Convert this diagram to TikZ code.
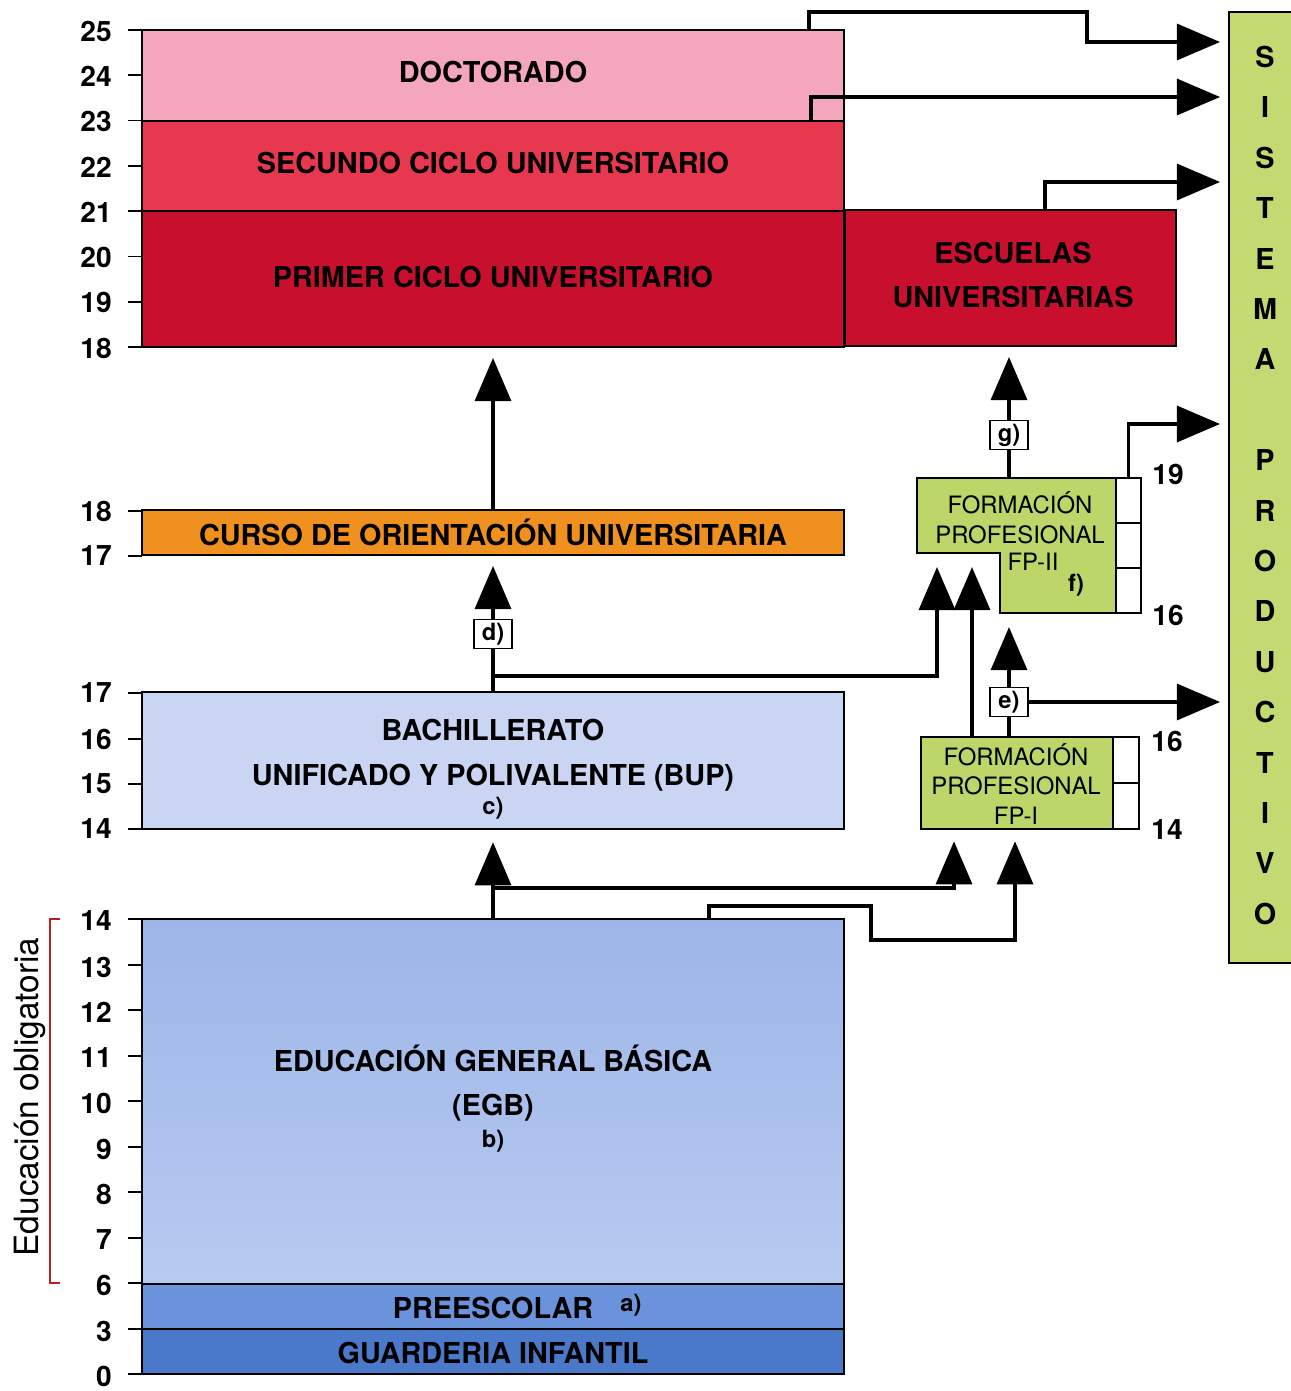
\documentclass[tikz,border=0pt]{standalone}
\usepackage{fontspec}
\setmainfont{TeX Gyre Heros}
\usetikzlibrary{arrows.meta,fit}

\definecolor{doctc}{HTML}{F4A6BC}
\definecolor{segc}{HTML}{E8384F}
\definecolor{primc}{HTML}{C8102E}
\definecolor{couc}{HTML}{F0901E}
\definecolor{bupc}{HTML}{C9D5F2}
\definecolor{egbtop}{HTML}{9DB5E8}
\definecolor{egbbot}{HTML}{B7CAF0}
\definecolor{prec}{HTML}{6A93DC}
\definecolor{guac}{HTML}{4B79CA}
\definecolor{fpc}{HTML}{BCD66A}
\definecolor{sisc}{HTML}{C3DA72}
\definecolor{brk}{HTML}{B82020}

\tikzset{
  blk/.style={draw=black,line width=1.1pt,inner sep=0pt},
  fpbox/.style={draw=black,line width=1.1pt,fill=fpc,inner sep=0pt},
  cell/.style={draw=black,line width=1.1pt,fill=white},
  fptxt/.style={align=center,inner sep=0pt,font=\fontsize{13.6}{17}\selectfont},
  bold/.style={align=center,inner sep=0pt,font=\bfseries\fontsize{16.4}{25.4}\selectfont},
  tag/.style={draw=black,fill=white,line width=1pt,inner sep=0pt,minimum width=22pt,
    minimum height=16.5pt,font=\bfseries\fontsize{13.5}{14}\selectfont},
  small/.style={inner sep=0pt,font=\bfseries\fontsize{13.5}{14}\selectfont},
  age/.style={anchor=east,inner sep=0pt,font=\bfseries\fontsize{16}{16}\selectfont},
  letter/.style={inner sep=0pt,font=\bfseries\fontsize{16.4}{16}\selectfont},
  tick/.style={line width=0.9pt},
  conn/.style={line width=1.8pt},
  arr/.style={conn,-{Triangle[length=24.5pt,width=20.5pt]}}
}

\begin{document}
\begin{tikzpicture}[x=0.02cm,y=-0.02cm]
  \useasboundingbox[fill=white] (0,0) rectangle (1290,1391);

  % university
  \node[blk,fill=doctc,fit={(142,30)(844,121)}] (doct) {};
  \node[blk,fill=segc,fit={(142,121)(844,211)}] (seg) {};
  \node[blk,fill=primc,fit={(142,211)(844,347)}] (prim) {};
  \node[blk,fill=primc,fit={(845,210)(1176,346)}] (esc) {};
  \node[bold] (doctxt) at (493,72) {DOCTORADO};
  \node[bold] (segtxt) at (493,163) {SECUNDO CICLO UNIVERSITARIO};
  \node[bold] (primtxt) at (493,277) {PRIMER CICLO UNIVERSITARIO};
  \node[bold] (esctxt) at (1013,275) {ESCUELAS\\UNIVERSITARIAS};

  \node[blk,fill=couc,fit={(142,510)(844,555)}] (cou) {};
  \node[bold] (coutxt) at (493,532) {CURSO DE ORIENTACIÓN UNIVERSITARIA};

  \node[blk,fill=bupc,fit={(142,692)(844,829)}] (bup) {};
  \node[bold] (buptxt) at (493,755) {BACHILLERATO\\UNIFICADO Y POLIVALENTE (BUP)};
  \node[small] (c) at (493,808) {c)};

  \node[blk,top color=egbtop,bottom color=egbbot,fit={(142,919)(844,1284)}] (egb) {};
  \node[bold] (egbtxt) at (493,1083) {EDUCACIÓN GENERAL BÁSICA\\(EGB)};
  \node[small] (b) at (493,1141) {b)};
  \node[blk,fill=prec,fit={(142,1284)(844,1329)}] (pre) {};
  \node[bold] (pretxt) at (493,1308) {PREESCOLAR};
  \node[small] (a) at (631,1305) {a)};
  \node[blk,fill=guac,fit={(142,1329)(844,1374)}] (gua) {};
  \node[bold] (guatxt) at (493,1353) {GUARDERIA INFANTIL};

  % ages
  \foreach \v in {18,...,25}{
    \draw[tick] (128,{30+(25-\v)*45.29}) -- ++(14,0);
    \node[age] (top\v) at (112,{31+(25-\v)*45.29}) {\v};
  }
  \foreach \v/\y in {18/511,17/556}{
    \draw[tick] (128,\y) -- ++(14,0);
    \node[age] (cou\v) at (112,\y) {\v};
  }
  \foreach \v/\y in {17/693,16/739,15/784,14/829}{
    \draw[tick] (128,\y) -- ++(14,0);
    \node[age] (bup\v) at (112,\y) {\v};
  }
  \foreach \v/\y in {14/919,13/965,12/1010,11/1056,10/1101,9/1147,8/1192,7/1238,6/1283,3/1329,0/1374}{
    \draw[tick] (128,\y) -- ++(14,0);
    \node[age] (egb\v) at (112,{\y+2}) {\v};
  }
  \draw[brk,line width=1.2pt] (60,919) -- (50,919) -- (50,1283) -- (60,1283);
  \node[rotate=90,inner sep=0pt,font=\fontsize{19}{19}\selectfont] (oblig) at (30,1097) {Educación obligatoria};

  % formacion profesional
  \draw[fpbox] (917,478) -- (1116,478) -- (1116,613) -- (1000,613) -- (1000,553) -- (917,553) -- cycle;
  \node[inner sep=0pt,fit={(917,478)(1116,613)}] (fp2) {};
  \draw[cell] (1116,478) rectangle (1141,613);
  \draw[line width=1.1pt] (1116,523) -- (1141,523) (1116,568) -- (1141,568);
  \node[fptxt] (fp2txt) at (1020,518) {FORMACIÓN\\PROFESIONAL};
  \node[fptxt] (fp2name) at (1033,562) {FP-II};
  \node[small] (f) at (1076,585) {f)};

  \node[fpbox,fit={(921,737)(1113,829)}] (fp1) {};
  \node[fptxt] (fp1txt) at (1016,784) {FORMACIÓN\\PROFESIONAL\\FP-I};
  \draw[cell] (1113,737) rectangle (1139,829);
  \draw[line width=1.1pt] (1113,783) -- (1139,783);

  \node[age,anchor=center] (n19) at (1168,474) {19};
  \node[age,anchor=center] (n16a) at (1168,615) {16};
  \node[age,anchor=center] (n16b) at (1167,741) {16};
  \node[age,anchor=center] (n14) at (1167,830) {14};

  % sistema productivo
  \node[draw,line width=1.1pt,fill=sisc,inner sep=0pt,fit={(1229,12)(1320,963)}] (sist) {};
  \foreach \c [count=\i from 0] in {S,I,S,T,E,M,A,{},P,R,O,D,U,C,T,I,V,O}
    \node[letter] (l\i) at (1265,{57+\i*50.4}) {\c};

  \coordinate (s1) at (1220,42);
  \coordinate (s2) at (1220,97);
  \coordinate (s3) at (1220,182);
  \coordinate (s4) at (1220,424);
  \coordinate (s5) at (1220,702);
  \coordinate (in1) at (937,553);
  \coordinate (in2) at (972,553);
  \coordinate (in3) at (1009,613);
  \coordinate (in4) at (954,829);
  \coordinate (in5) at (1015,829);

  % tags
  \node[tag] (d) at (493,634) {d)};
  \node[tag] (e) at (1009,702) {e)};
  \node[tag] (g) at (1009,435) {g)};

  % connectors
  \draw[arr] (doct.north west) ++(668,0) |- (1087,12) |- (s1);
  \draw[arr] (seg.north west) ++(670,0) |- (s2);
  \draw[arr] (esc.north west) ++(201,0) |- (s3);
  \draw[arr] (fp2.north east) ++(12,0) |- (s4);
  \draw[arr] (e) -- (s5);

  \draw[arr,shorten >=5.7pt] (cou.north) -- (prim.south);
  \draw[conn] (fp2.north -| g) -- (g);
  \draw[arr,shorten >=5.7pt] (g) -- (g |- esc.south);

  \draw[conn] (bup.north) -- (d);
  \draw[arr,shorten >=5.7pt] (d) -- (cou.south);
  \draw[arr,shorten >=8pt] (bup.north) ++(0,-15) -| (in1);
  \draw[arr,shorten >=8pt] (fp1.north -| in2) -- (in2);
  \draw[conn] (fp1.north -| e) -- (e);
  \draw[arr,shorten >=8pt] (e) -- (in3);

  \draw[arr,shorten >=7pt] (egb.north) -- (bup.south);
  \draw[arr,shorten >=7pt] (egb.north) ++(0,-30) -| (in4);
  \draw[arr,shorten >=7pt] (egb.north west) ++(568,0) |- (871,906) |- (1015,940) -- (in5);
\end{tikzpicture}
\end{document}
